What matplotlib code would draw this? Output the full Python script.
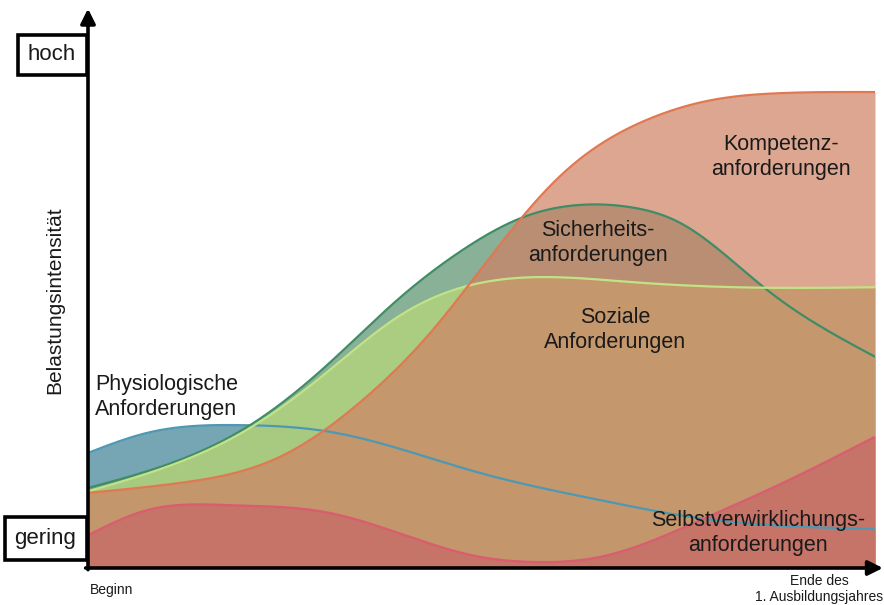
import numpy as np
import matplotlib
matplotlib.use("Agg")
import matplotlib.pyplot as plt
from matplotlib.patches import Rectangle

plt.rcParams['font.family'] = ['Liberation Sans', 'DejaVu Sans']

# Time axis: 0 = Beginn, 100 = Ende des 1. Ausbildungsjahres
# Intensity axis: 0 = gering, 100 = hoch
phys_x = [0, 7.5, 19.3, 30.7, 49.8, 65.1, 76.5, 100]
phys_y = [20.7, 24.3, 25.7, 24.5, 17.1, 12.2, 9.2, 7.0]

sich_x = [0, 20.6, 30.7, 39.3, 47.6, 55.3, 62.5, 68.9, 75.2, 86.3, 100]
sich_y = [14.4, 25.7, 36.9, 48.2, 57.2, 63.1, 65.3, 64.9, 62.1, 50.0, 38.0]

soz_x = [0, 20.6, 30.7, 39.3, 47.6, 56.5, 69.3, 86.3, 100]
soz_y = [13.8, 25.2, 35.6, 45.1, 50.5, 52.3, 51.4, 50.4, 50.5]

komp_x = [0, 11.7, 24.4, 34.9, 43.5, 51.1, 60.0, 71.0, 79.4, 87.9, 100]
komp_y = [13.5, 15.3, 20.0, 30.2, 42.3, 55.9, 70.5, 80.6, 84.2, 85.4, 85.6]

selbst_x = [0, 7.5, 18.0, 30.7, 49.8, 56.2, 65.1, 77.8, 88.3, 100]
selbst_y = [5.9, 10.4, 11.3, 9.9, 2.0, 1.1, 2.0, 8.6, 15.3, 23.6]


def smooth(xs, ys, n=500):
    """Natural cubic spline through the given points."""
    x = np.asarray(xs, float)
    y = np.asarray(ys, float)
    k = len(x)
    h = np.diff(x)
    A = np.zeros((k, k))
    r = np.zeros(k)
    A[0, 0] = A[-1, -1] = 1.0
    for i in range(1, k - 1):
        A[i, i - 1] = h[i - 1]
        A[i, i] = 2 * (h[i - 1] + h[i])
        A[i, i + 1] = h[i]
        r[i] = 6 * ((y[i + 1] - y[i]) / h[i] - (y[i] - y[i - 1]) / h[i - 1])
    M = np.linalg.solve(A, r)
    xx = np.linspace(x[0], x[-1], n)
    idx = np.clip(np.searchsorted(x, xx) - 1, 0, k - 2)
    hi = h[idx]
    a = x[idx + 1] - xx
    b = xx - x[idx]
    yy = (M[idx] * a**3 + M[idx + 1] * b**3) / (6 * hi) \
        + (y[idx] / hi - M[idx] * hi / 6) * a \
        + (y[idx + 1] / hi - M[idx + 1] * hi / 6) * b
    return xx, yy


W, H = 884, 605
fig = plt.figure(figsize=(W / 100, H / 100), dpi=100)
fig.patch.set_facecolor('white')


def fx(px):
    return px / W


def fy(py):
    return 1 - py / H


ax = fig.add_axes([fx(88), fy(568), (875 - 88) / W, 556 / H])
ax.set_xlim(0, 100)
ax.set_ylim(0, 100)
ax.axis('off')

series = [
    (phys_x, phys_y, (0.37, 0.59, 0.65), 0.85, (0.30, 0.60, 0.70)),
    (sich_x, sich_y, (0.42, 0.62, 0.49), 0.80, (0.25, 0.55, 0.40)),
    (soz_x, soz_y, (0.69, 0.82, 0.50), 0.88, (0.76, 0.89, 0.52)),
    (komp_x, komp_y, (0.81, 0.50, 0.39), 0.70, (0.88, 0.47, 0.32)),
    (selbst_x, selbst_y, (0.79, 0.34, 0.40), 0.55, (0.85, 0.36, 0.44)),
]

curves = []
for xs, ys, fc, a, lc in series:
    cx, cy = smooth(xs, ys)
    ax.fill_between(cx, 0, cy, color=fc, alpha=a, lw=0)
    curves.append((cx, cy, lc))
for cx, cy, lc in curves:
    ax.plot(cx, cy, color=lc, lw=1.6, solid_capstyle='butt')

# Axis arrows
arrow = dict(arrowstyle='-|>', lw=2.6, color='black', mutation_scale=22,
             shrinkA=0, shrinkB=0)
ax.annotate('', xy=(0, 1.006), xytext=(0, -0.003), xycoords='axes fraction',
            arrowprops=arrow, annotation_clip=False)
ax.annotate('', xy=(1.010, 0), xytext=(-0.003, 0), xycoords='axes fraction',
            arrowprops=arrow, annotation_clip=False)

# Level boxes on the y axis
for (x0, y0, x1, y1), label in [((18, 35, 87, 75), 'hoch'),
                                 ((5, 517, 87, 560), 'gering')]:
    fig.patches.append(Rectangle((fx(x0), fy(y1)), fx(x1) - fx(x0), fy(y0) - fy(y1),
                                 transform=fig.transFigure, fill=False,
                                 lw=2.6, ec='black'))
    fig.text(fx((x0 + x1) / 2 - 1), fy((y0 + y1) / 2), label, fontsize=16,
             ha='center', va='center', color='#1a1a1a')

fig.text(fx(55), fy(300), 'Belastungsintensität', rotation=90, fontsize=15,
         ha='center', va='center', color='#1a1a1a')

fig.text(fx(90), fy(590), 'Beginn', fontsize=10, ha='left', va='center',
         color='#1a1a1a')
fig.text(fx(819), fy(589), 'Ende des\n1. Ausbildungsjahres', fontsize=10,
         ha='center', va='center', linespacing=1.25, color='#1a1a1a')

# Area labels
lab = dict(fontsize=15.5, color='#1a1a1a', linespacing=1.2)
fig.text(fx(95), fy(397), 'Physiologische\nAnforderungen', ha='left', va='center', **lab)
fig.text(fx(781), fy(157), 'Kompetenz-\nanforderungen', ha='center', va='center', **lab)
fig.text(fx(598), fy(243), 'Sicherheits-\nanforderungen', ha='center', va='center', **lab)
fig.text(fx(615), fy(330), 'Soziale\nAnforderungen', ha='center', va='center', **lab)
fig.text(fx(758), fy(533), 'Selbstverwirklichungs-\nanforderungen', ha='center',
         va='center', **lab)

fig.savefig('out.png', dpi=100)
